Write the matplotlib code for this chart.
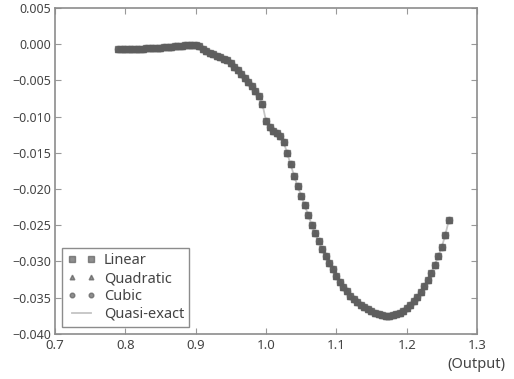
import matplotlib
matplotlib.use('Agg')
import matplotlib.pyplot as plt
from matplotlib.ticker import FuncFormatter

plt.rcParams['font.family'] = ['Noto Sans', 'DejaVu Sans']

# sampled outputs (step 0.005 from 0.790 to 1.260)
output = [round(0.790 + 0.005 * i, 3) for i in range(95)]

# response of the quasi-exact solution; the three fits sit on top of it
quasi_exact = [
    -0.00072, -0.00071, -0.00070, -0.00068, -0.00066, -0.00064, -0.00062,
    -0.00060, -0.00058, -0.00055, -0.00052, -0.00049, -0.00046, -0.00042,
    -0.00038, -0.00034, -0.00030, -0.00026, -0.00021, -0.00016, -0.00011,
    -0.00007,
    # 0.900 - 0.995
    -0.0001, -0.0003, -0.0006, -0.0009, -0.0012, -0.0014, -0.0016, -0.0018,
    -0.0020, -0.0022, -0.0026, -0.0031, -0.0036, -0.0041, -0.0047, -0.0052,
    -0.0058, -0.0064, -0.0072, -0.0083,
    # 1.000 - 1.095
    -0.0106, -0.0115, -0.0120, -0.0123, -0.0127, -0.0135, -0.0150, -0.0166,
    -0.0182, -0.0196, -0.0209, -0.0222, -0.0236, -0.0249, -0.0261, -0.0272,
    -0.0283, -0.0293, -0.0302, -0.0311,
    # 1.100 - 1.195
    -0.0320, -0.0328, -0.0335, -0.0341, -0.0347, -0.0352, -0.0356, -0.0360,
    -0.0363, -0.0366, -0.0369, -0.0371, -0.0373, -0.0374, -0.0375, -0.0375,
    -0.0374, -0.0373, -0.0371, -0.0368,
    # 1.200 - 1.260
    -0.0364, -0.0360, -0.0355, -0.0349, -0.0342, -0.0334, -0.0326, -0.0316,
    -0.0305, -0.0293, -0.0280, -0.0263, -0.0243,
]
linear = list(quasi_exact)
quadratic = list(quasi_exact)
cubic = list(quasi_exact)

x_ticks = [0.7, 0.8, 0.9, 1.0, 1.1, 1.2, 1.3]
y_ticks = [-0.040, -0.035, -0.030, -0.025, -0.020, -0.015, -0.010,
           -0.005, 0.000, 0.005]

gray = '#5e5e5e'
fig = plt.figure(figsize=(5.14, 3.79), dpi=100)
ax = fig.add_axes([0.107, 0.119, 0.821, 0.860])

ax.plot(output, quasi_exact, color='#c4c4c4', lw=1.3, zorder=1)
ax.plot(output, linear, 's', color=gray, ms=5, mec=gray, alpha=0.7,
        label='Linear', zorder=3)
ax.plot(output, quadratic, '^', color=gray, ms=4.5, mec=gray, alpha=0.7,
        label='Quadratic', zorder=3)
ax.plot(output, cubic, 'o', color=gray, ms=4.5, mec=gray, alpha=0.7,
        label='Cubic', zorder=3)
ax.plot([], [], color='#c4c4c4', lw=1.3, label='Quasi-exact')

ax.set_xlim(0.7, 1.3)
ax.set_ylim(-0.040, 0.005)
ax.set_xticks(x_ticks)
ax.set_yticks(y_ticks)
ax.xaxis.set_major_formatter(FuncFormatter(lambda v, p: f'{v:.1f}'))
ax.yaxis.set_major_formatter(
    FuncFormatter(lambda v, p: f'{v:.3f}'.replace('-', '\u2212')))
ax.tick_params(direction='in', top=True, right=True, length=4, width=0.8,
               color='#999999', labelcolor='#444444')
ax.tick_params(axis='x', labelsize=9.5, pad=4)
ax.tick_params(axis='y', labelsize=9, pad=2.5)
for s in ax.spines.values():
    s.set_color('#8c8c8c')
    s.set_linewidth(1.2)

leg = ax.legend(loc='lower left', bbox_to_anchor=(0.01, 0.012), numpoints=2,
                fontsize=10.5, fancybox=False, framealpha=1, borderpad=0.35,
                handlelength=1.9, handletextpad=0.6, labelspacing=0.2,
                borderaxespad=0.2, markerscale=0.75)
leg.get_frame().set_edgecolor('#8c8c8c')
leg.get_frame().set_linewidth(1.0)
for t in leg.get_texts():
    t.set_color('#444444')

fig.text(0.984, 0.018, '(Output)', ha='right', va='bottom', fontsize=10.5,
         color='#444444')

fig.savefig('out.png', dpi=100)
